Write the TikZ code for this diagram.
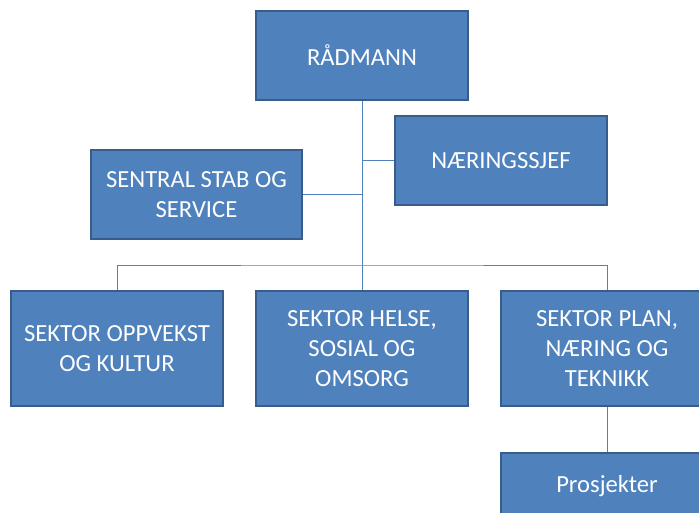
\documentclass[tikz,border=0pt]{standalone}
\usepackage{fontspec}
\setmainfont{Carlito}
\definecolor{boxfill}{HTML}{4F81BD}
\definecolor{boxedge}{HTML}{385D8A}
\definecolor{linkcol}{HTML}{4F81BD}
\begin{document}
\begin{tikzpicture}[x=1pt,y=-1pt,
  orgbox/.style={draw=boxedge, line width=2.2pt, fill=boxfill, text=white,
    minimum width=212pt, minimum height=89pt, align=center, inner sep=2pt,
    font=\fontsize{24.6}{30}\selectfont},
  tallbox/.style={orgbox, minimum height=115pt},
  link/.style={draw=linkcol, line width=1pt}]
\useasboundingbox (0,0) rectangle (699,512);
\clip (0,0) rectangle (699,512);
\node[orgbox] (r) at (362,55.5) {RÅDMANN};
\node[orgbox] (n) at (501,160.5) {NÆRINGSSJEF};
\node[orgbox, minimum width=211pt] (s) at (196.5,194.5) {SENTRAL STAB OG\\SERVICE};
\node[tallbox] (o) at (117,348.5) {SEKTOR OPPVEKST\\OG KULTUR};
\node[tallbox] (h) at (362,348.5) {SEKTOR HELSE,\\SOSIAL OG\\OMSORG};
\node[tallbox] (p) at (607,348.5) {SEKTOR PLAN,\\NÆRING OG\\TEKNIKK};
\node[orgbox, minimum height=66pt] (pr) at (607,486) {Prosjekter};
\coordinate (j) at (362,265);
\draw[link] (r.south) -- (h.north);
\draw[link] (o.north) |- (j) -| (p.north);
\draw[link] (n.west) -- (n.west -| r.south);
\draw[link] (s.east) -- (s.east -| r.south);
\draw[link] (p.south) -- (pr.north);
\end{tikzpicture}
\end{document}
